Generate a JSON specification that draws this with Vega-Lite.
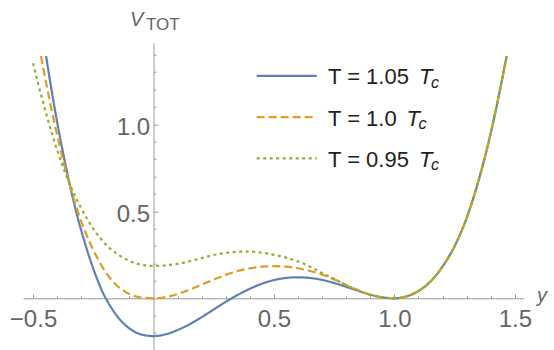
{
  "$schema": "https://vega.github.io/schema/vega-lite/v6.json",
  "width": 501,
  "height": 307.3,
  "autosize": {"type": "none"},
  "padding": {"left": 23, "top": 42.7, "right": 30, "bottom": 0},
  "background": "white",
  "config": {"view": {"stroke": null}, "font": "Liberation Sans"},
  "datasets": {
    "curves": [
      {"T": "1.05", "y": -0.446, "V": 1.393}, {"T": "1.05", "y": -0.43, "V": 1.255}, {"T": "1.05", "y": -0.41, "V": 1.09},
      {"T": "1.05", "y": -0.39, "V": 0.94}, {"T": "1.05", "y": -0.37, "V": 0.8}, {"T": "1.05", "y": -0.35, "V": 0.668},
      {"T": "1.05", "y": -0.33, "V": 0.548}, {"T": "1.05", "y": -0.31, "V": 0.44}, {"T": "1.05", "y": -0.29, "V": 0.343},
      {"T": "1.05", "y": -0.27, "V": 0.252}, {"T": "1.05", "y": -0.25, "V": 0.17}, {"T": "1.05", "y": -0.23, "V": 0.097},
      {"T": "1.05", "y": -0.21, "V": 0.032}, {"T": "1.05", "y": -0.19, "V": -0.02}, {"T": "1.05", "y": -0.17, "V": -0.065},
      {"T": "1.05", "y": -0.15, "V": -0.104}, {"T": "1.05", "y": -0.125, "V": -0.143}, {"T": "1.05", "y": -0.1, "V": -0.173},
      {"T": "1.05", "y": -0.075, "V": -0.195}, {"T": "1.05", "y": -0.05, "V": -0.208}, {"T": "1.05", "y": -0.025, "V": -0.215},
      {"T": "1.05", "y": 0, "V": -0.217}, {"T": "1.05", "y": 0.05, "V": -0.207}, {"T": "1.05", "y": 0.1, "V": -0.182},
      {"T": "1.05", "y": 0.15, "V": -0.149}, {"T": "1.05", "y": 0.2, "V": -0.108}, {"T": "1.05", "y": 0.25, "V": -0.064},
      {"T": "1.05", "y": 0.3, "V": -0.02}, {"T": "1.05", "y": 0.35, "V": 0.02}, {"T": "1.05", "y": 0.4, "V": 0.055},
      {"T": "1.05", "y": 0.45, "V": 0.084}, {"T": "1.05", "y": 0.5, "V": 0.105}, {"T": "1.05", "y": 0.55, "V": 0.117},
      {"T": "1.05", "y": 0.6, "V": 0.121}, {"T": "1.05", "y": 0.65, "V": 0.117}, {"T": "1.05", "y": 0.7, "V": 0.106},
      {"T": "1.05", "y": 0.75, "V": 0.088}, {"T": "1.05", "y": 0.8, "V": 0.066}, {"T": "1.05", "y": 0.85, "V": 0.043},
      {"T": "1.05", "y": 0.9, "V": 0.021}, {"T": "1.05", "y": 0.95, "V": 0.006}, {"T": "1.05", "y": 1, "V": 0},
      {"T": "1.05", "y": 1.05, "V": 0.011}, {"T": "1.05", "y": 1.1, "V": 0.042}, {"T": "1.05", "y": 1.15, "V": 0.097},
      {"T": "1.05", "y": 1.2, "V": 0.183}, {"T": "1.05", "y": 1.25, "V": 0.3}, {"T": "1.05", "y": 1.3, "V": 0.462},
      {"T": "1.05", "y": 1.35, "V": 0.68}, {"T": "1.05", "y": 1.4, "V": 0.95}, {"T": "1.05", "y": 1.44, "V": 1.21},
      {"T": "1.05", "y": 1.466, "V": 1.393},

      {"T": "1.0", "y": -0.467, "V": 1.393}, {"T": "1.0", "y": -0.45, "V": 1.268}, {"T": "1.0", "y": -0.43, "V": 1.13},
      {"T": "1.0", "y": -0.41, "V": 1.0}, {"T": "1.0", "y": -0.39, "V": 0.878}, {"T": "1.0", "y": -0.37, "V": 0.765},
      {"T": "1.0", "y": -0.35, "V": 0.662}, {"T": "1.0", "y": -0.33, "V": 0.568}, {"T": "1.0", "y": -0.31, "V": 0.482},
      {"T": "1.0", "y": -0.29, "V": 0.405}, {"T": "1.0", "y": -0.27, "V": 0.338}, {"T": "1.0", "y": -0.25, "V": 0.278},
      {"T": "1.0", "y": -0.23, "V": 0.225}, {"T": "1.0", "y": -0.21, "V": 0.175}, {"T": "1.0", "y": -0.19, "V": 0.133},
      {"T": "1.0", "y": -0.17, "V": 0.1}, {"T": "1.0", "y": -0.15, "V": 0.071}, {"T": "1.0", "y": -0.13, "V": 0.05},
      {"T": "1.0", "y": -0.11, "V": 0.032}, {"T": "1.0", "y": -0.09, "V": 0.019}, {"T": "1.0", "y": -0.07, "V": 0.01},
      {"T": "1.0", "y": -0.045, "V": 0.004}, {"T": "1.0", "y": 0, "V": 0}, {"T": "1.0", "y": 0.05, "V": 0.007},
      {"T": "1.0", "y": 0.1, "V": 0.025}, {"T": "1.0", "y": 0.15, "V": 0.05}, {"T": "1.0", "y": 0.2, "V": 0.079},
      {"T": "1.0", "y": 0.25, "V": 0.108}, {"T": "1.0", "y": 0.3, "V": 0.135}, {"T": "1.0", "y": 0.35, "V": 0.157},
      {"T": "1.0", "y": 0.4, "V": 0.172}, {"T": "1.0", "y": 0.45, "V": 0.182}, {"T": "1.0", "y": 0.5, "V": 0.185},
      {"T": "1.0", "y": 0.55, "V": 0.182}, {"T": "1.0", "y": 0.6, "V": 0.173}, {"T": "1.0", "y": 0.65, "V": 0.157},
      {"T": "1.0", "y": 0.7, "V": 0.136}, {"T": "1.0", "y": 0.75, "V": 0.109}, {"T": "1.0", "y": 0.8, "V": 0.077},
      {"T": "1.0", "y": 0.85, "V": 0.047}, {"T": "1.0", "y": 0.9, "V": 0.021}, {"T": "1.0", "y": 0.95, "V": 0.006},
      {"T": "1.0", "y": 1, "V": 0},
      {"T": "1.0", "y": 1.05, "V": 0.011}, {"T": "1.0", "y": 1.1, "V": 0.042}, {"T": "1.0", "y": 1.15, "V": 0.097},
      {"T": "1.0", "y": 1.2, "V": 0.183}, {"T": "1.0", "y": 1.25, "V": 0.3}, {"T": "1.0", "y": 1.3, "V": 0.462},
      {"T": "1.0", "y": 1.35, "V": 0.68}, {"T": "1.0", "y": 1.4, "V": 0.95}, {"T": "1.0", "y": 1.44, "V": 1.21},
      {"T": "1.0", "y": 1.466, "V": 1.393},

      {"T": "0.95", "y": -0.5, "V": 1.352}, {"T": "0.95", "y": -0.48, "V": 1.24}, {"T": "0.95", "y": -0.46, "V": 1.135},
      {"T": "0.95", "y": -0.44, "V": 1.035}, {"T": "0.95", "y": -0.42, "V": 0.94}, {"T": "0.95", "y": -0.4, "V": 0.853},
      {"T": "0.95", "y": -0.38, "V": 0.772}, {"T": "0.95", "y": -0.36, "V": 0.698}, {"T": "0.95", "y": -0.34, "V": 0.632},
      {"T": "0.95", "y": -0.32, "V": 0.572}, {"T": "0.95", "y": -0.3, "V": 0.518}, {"T": "0.95", "y": -0.27, "V": 0.443},
      {"T": "0.95", "y": -0.24, "V": 0.38}, {"T": "0.95", "y": -0.21, "V": 0.328}, {"T": "0.95", "y": -0.18, "V": 0.286},
      {"T": "0.95", "y": -0.15, "V": 0.254}, {"T": "0.95", "y": -0.12, "V": 0.229}, {"T": "0.95", "y": -0.09, "V": 0.209},
      {"T": "0.95", "y": -0.06, "V": 0.196}, {"T": "0.95", "y": -0.03, "V": 0.189}, {"T": "0.95", "y": 0, "V": 0.186},
      {"T": "0.95", "y": 0.03, "V": 0.187}, {"T": "0.95", "y": 0.068, "V": 0.192}, {"T": "0.95", "y": 0.1, "V": 0.198},
      {"T": "0.95", "y": 0.15, "V": 0.213}, {"T": "0.95", "y": 0.2, "V": 0.232}, {"T": "0.95", "y": 0.25, "V": 0.249},
      {"T": "0.95", "y": 0.3, "V": 0.261}, {"T": "0.95", "y": 0.35, "V": 0.268}, {"T": "0.95", "y": 0.39, "V": 0.269},
      {"T": "0.95", "y": 0.43, "V": 0.266}, {"T": "0.95", "y": 0.47, "V": 0.258}, {"T": "0.95", "y": 0.51, "V": 0.247},
      {"T": "0.95", "y": 0.55, "V": 0.234}, {"T": "0.95", "y": 0.6, "V": 0.212}, {"T": "0.95", "y": 0.65, "V": 0.182},
      {"T": "0.95", "y": 0.7, "V": 0.146}, {"T": "0.95", "y": 0.75, "V": 0.111}, {"T": "0.95", "y": 0.8, "V": 0.076},
      {"T": "0.95", "y": 0.85, "V": 0.045}, {"T": "0.95", "y": 0.9, "V": 0.02}, {"T": "0.95", "y": 0.95, "V": 0.005},
      {"T": "0.95", "y": 1, "V": 0},
      {"T": "0.95", "y": 1.05, "V": 0.011}, {"T": "0.95", "y": 1.1, "V": 0.042}, {"T": "0.95", "y": 1.15, "V": 0.097},
      {"T": "0.95", "y": 1.2, "V": 0.183}, {"T": "0.95", "y": 1.25, "V": 0.3}, {"T": "0.95", "y": 1.3, "V": 0.462},
      {"T": "0.95", "y": 1.35, "V": 0.68}, {"T": "0.95", "y": 1.4, "V": 0.95}, {"T": "0.95", "y": 1.44, "V": 1.21},
      {"T": "0.95", "y": 1.466, "V": 1.393}
    ],
    "legend": [
      {"T": "1.05", "label": "T = 1.05"},
      {"T": "1.0", "label": "T = 1.0"},
      {"T": "0.95", "label": "T = 0.95"}
    ]
  },
  "resolve": {"axis": {"x": "independent", "y": "independent"}},
  "layer": [
    {
      "data": {"name": "curves"},
      "mark": {"type": "line", "interpolate": "monotone", "strokeWidth": 2.2, "strokeCap": "butt"},
      "encoding": {
        "x": {
          "field": "y", "type": "quantitative",
          "scale": {"domain": [-0.5417, 1.538], "nice": false, "zero": false},
          "axis": {
            "orient": "bottom", "offset": -51.7, "values": [-0.5, 0.5, 1, 1.5], "format": ".1f",
            "title": null, "grid": false, "domainColor": "#999999", "domainWidth": 1,
            "tickSize": -4.3, "tickColor": "#999999", "tickWidth": 1,
            "labelFont": "Liberation Sans", "labelFontSize": 24, "labelColor": "#666666",
            "labelPadding": 13, "labelOverlap": false, "labelFlush": false, "labelBound": false
          }
        },
        "y": {
          "field": "V", "type": "quantitative",
          "scale": {"domain": [-0.297, 1.4695], "nice": false, "zero": false},
          "axis": {
            "orient": "left", "offset": -130.5, "values": [0.5, 1], "format": ".1f",
            "title": null, "grid": false, "domainColor": "#999999", "domainWidth": 1,
            "tickSize": -4.3, "tickColor": "#999999", "tickWidth": 1,
            "labelFont": "Liberation Sans", "labelFontSize": 24, "labelColor": "#666666",
            "labelPadding": 8.3, "labelOffset": 2.8, "labelOverlap": false, "labelFlush": false, "labelBound": false
          }
        },
        "color": {
          "field": "T", "type": "nominal",
          "scale": {"domain": ["1.05", "1.0", "0.95"], "range": ["#5E81B5", "#E19C24", "#8FB032"]},
          "legend": null
        },
        "strokeDash": {
          "field": "T", "type": "nominal",
          "scale": {"domain": ["1.05", "1.0", "0.95"], "range": [[1, 0], [8, 4], [3, 3.5]]},
          "legend": null
        }
      }
    },
    {
      "data": {"name": "curves"},
      "mark": {"type": "point", "opacity": 0, "size": 0},
      "encoding": {
        "x": {
          "field": "y", "type": "quantitative",
          "scale": {"domain": [-0.5417, 1.538], "nice": false, "zero": false},
          "axis": {
            "orient": "bottom", "offset": -51.7,
            "values": [-0.4, -0.3, -0.2, -0.1, 0.1, 0.2, 0.3, 0.4, 0.6, 0.7, 0.8, 0.9, 1.1, 1.2, 1.3, 1.4],
            "title": null, "grid": false, "domain": false, "labels": false,
            "tickSize": -2.5, "tickColor": "#999999", "tickWidth": 1
          }
        },
        "y": {
          "field": "V", "type": "quantitative",
          "scale": {"domain": [-0.297, 1.4695], "nice": false, "zero": false},
          "axis": {
            "orient": "left", "offset": -130.5,
            "values": [-0.2, -0.1, 0.1, 0.2, 0.3, 0.4, 0.6, 0.7, 0.8, 0.9, 1.1, 1.2, 1.3, 1.4],
            "title": null, "grid": false, "domain": false, "labels": false,
            "tickSize": -2.5, "tickColor": "#999999", "tickWidth": 1
          }
        }
      }
    },
    {
      "data": {"name": "legend"},
      "transform": [
        {"calculate": "1.279 - 0.237 * indexof(['1.05', '1.0', '0.95'], datum.T)", "as": "ly"}
      ],
      "mark": {"type": "rule", "strokeWidth": 2.2, "strokeCap": "butt"},
      "encoding": {
        "x": {"datum": 0.4284, "type": "quantitative", "scale": {"domain": [-0.5417, 1.538], "nice": false, "zero": false}, "axis": null},
        "x2": {"datum": 0.6775},
        "y": {"field": "ly", "type": "quantitative", "scale": {"domain": [-0.297, 1.4695], "nice": false, "zero": false}, "axis": null},
        "color": {"field": "T", "type": "nominal", "scale": {"domain": ["1.05", "1.0", "0.95"], "range": ["#5E81B5", "#E19C24", "#8FB032"]}, "legend": null},
        "strokeDash": {"field": "T", "type": "nominal", "scale": {"domain": ["1.05", "1.0", "0.95"], "range": [[1, 0], [8, 4], [3, 3.5]]}, "legend": null}
      }
    },
    {
      "data": {"name": "legend"},
      "transform": [
        {"calculate": "1.279 - 0.237 * indexof(['1.05', '1.0', '0.95'], datum.T)", "as": "ly"}
      ],
      "mark": {"type": "text", "align": "left", "baseline": "alphabetic", "dy": 8.6, "fontSize": 22, "font": "Liberation Sans", "color": "#222222"},
      "encoding": {
        "x": {"datum": 0.7244, "type": "quantitative", "scale": {"domain": [-0.5417, 1.538], "nice": false, "zero": false}, "axis": null},
        "y": {"field": "ly", "type": "quantitative", "scale": {"domain": [-0.297, 1.4695], "nice": false, "zero": false}, "axis": null},
        "text": {"field": "label"}
      }
    },
    {
      "data": {"name": "legend"},
      "transform": [
        {"calculate": "1.279 - 0.237 * indexof(['1.05', '1.0', '0.95'], datum.T)", "as": "ly"},
        {"calculate": "1.102 - 0.052 * (8 - length(datum.label))", "as": "tx"}
      ],
      "mark": {"type": "text", "text": "T", "align": "left", "baseline": "alphabetic", "dy": 8.6, "fontSize": 22, "fontStyle": "italic", "font": "Liberation Sans", "color": "#222222"},
      "encoding": {
        "x": {"field": "tx", "type": "quantitative", "scale": {"domain": [-0.5417, 1.538], "nice": false, "zero": false}, "axis": null},
        "y": {"field": "ly", "type": "quantitative", "scale": {"domain": [-0.297, 1.4695], "nice": false, "zero": false}, "axis": null}
      }
    },
    {
      "data": {"name": "legend"},
      "transform": [
        {"calculate": "1.279 - 0.237 * indexof(['1.05', '1.0', '0.95'], datum.T)", "as": "ly"},
        {"calculate": "1.152 - 0.052 * (8 - length(datum.label))", "as": "cx"}
      ],
      "mark": {"type": "text", "text": "c", "align": "left", "baseline": "alphabetic", "dy": 12, "fontSize": 16, "fontStyle": "italic", "font": "Liberation Sans", "color": "#222222"},
      "encoding": {
        "x": {"field": "cx", "type": "quantitative", "scale": {"domain": [-0.5417, 1.538], "nice": false, "zero": false}, "axis": null},
        "y": {"field": "ly", "type": "quantitative", "scale": {"domain": [-0.297, 1.4695], "nice": false, "zero": false}, "axis": null}
      }
    },
    {
      "data": {"values": [{}]},
      "mark": {"type": "text", "text": "V", "align": "left", "baseline": "alphabetic", "fontSize": 20, "fontStyle": "italic", "font": "Liberation Sans", "color": "#666666"},
      "encoding": {
        "x": {"datum": -0.0976, "type": "quantitative", "scale": {"domain": [-0.5417, 1.538], "nice": false, "zero": false}, "axis": null},
        "y": {"datum": 1.565, "type": "quantitative", "scale": {"domain": [-0.297, 1.4695], "nice": false, "zero": false}, "axis": null}
      }
    },
    {
      "data": {"values": [{}]},
      "mark": {"type": "text", "text": "TOT", "align": "left", "baseline": "alphabetic", "fontSize": 17, "font": "Liberation Sans", "color": "#666666"},
      "encoding": {
        "x": {"datum": -0.031, "type": "quantitative", "scale": {"domain": [-0.5417, 1.538], "nice": false, "zero": false}, "axis": null},
        "y": {"datum": 1.542, "type": "quantitative", "scale": {"domain": [-0.297, 1.4695], "nice": false, "zero": false}, "axis": null}
      }
    },
    {
      "data": {"values": [{}]},
      "mark": {"type": "text", "text": "y", "align": "left", "baseline": "alphabetic", "fontSize": 20, "fontStyle": "italic", "font": "Liberation Sans", "color": "#666666"},
      "encoding": {
        "x": {"datum": 1.592, "type": "quantitative", "scale": {"domain": [-0.5417, 1.538], "nice": false, "zero": false}, "axis": null},
        "y": {"datum": -0.02, "type": "quantitative", "scale": {"domain": [-0.297, 1.4695], "nice": false, "zero": false}, "axis": null}
      }
    }
  ]
}
